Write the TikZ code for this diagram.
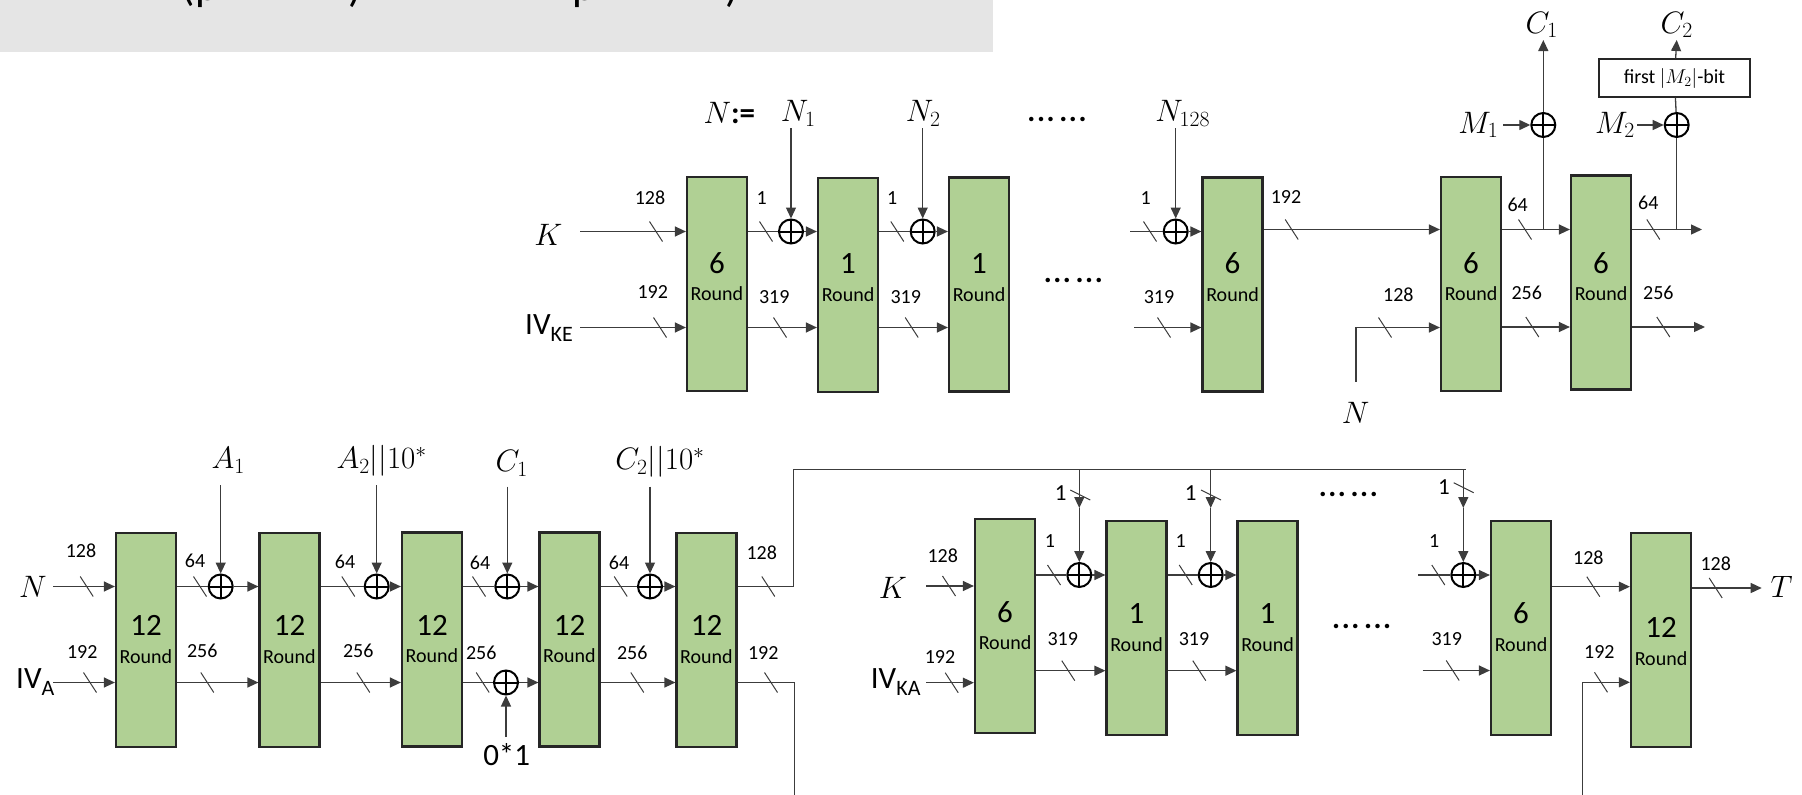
\RequirePackage{fix-cm}
\documentclass[tikz,border=0pt]{standalone}
\usepackage{fontspec}
\setmainfont{Carlito}
\usetikzlibrary{arrows.meta}

\definecolor{roundfill}{RGB}{176,208,148}
\definecolor{bannergray}{RGB}{229,229,229}
\definecolor{wiregray}{RGB}{60,60,60}

\newcounter{busno}

\tikzset{
  wire/.style={line width=1.3pt, draw=wiregray},
  arr/.style={wire, -{Triangle[length=11pt,width=10pt]}},
  rbox/.style={draw=black!85, line width=2.2pt, fill=roundfill,
    minimum width=60pt, minimum height=214pt, inner sep=0pt},
  xorn/.style={circle, draw=black, line width=2pt, minimum size=24pt, inner sep=0pt,
    path picture={\draw[line width=2pt]
      (path picture bounding box.north) -- (path picture bounding box.south)
      (path picture bounding box.west) -- (path picture bounding box.east);}},
  num/.style={font=\fontsize{20}{20}\selectfont, inner sep=0pt},
  onum/.style={font=\fontsize{23}{23}\selectfont, inner sep=0pt},
  bignum/.style={font=\fontsize{31}{31}\selectfont, inner sep=0pt},
  var/.style={font=\fontsize{31}{31}\selectfont, inner sep=0pt},
  dots/.style={font=\fontsize{30}{30}\selectfont\bfseries, inner sep=0pt},
  frag/.style={font=\fontsize{44}{44}\selectfont, inner sep=0pt},
  slashmark/.style={line width=1pt, draw=wiregray},
}

% a round-function block: name, x, y, number of rounds, lift of the number
\newcommand\roundbox[5]{%
  \node[rbox] (#1) at (#2,#3) {};
  \node[bignum] (#1n) at ([yshift=#5pt]#1.center) {#4};
  \node[num] (#1r) at ([yshift=#5pt-31pt]#1.center) {Round};}

% width mark on a horizontal wire at (#1,#2), bit count #5 at (#3,#4)
\newcommand\hbus[5]{%
  \stepcounter{busno}%
  \draw[slashmark] ({#1-6.5},{#2-10}) -- ({#1+6.5},{#2+10});
  \node[num] (bw\arabic{busno}) at (#3,#4) {#5};}

% width mark on a vertical wire
\newcommand\vbus[5]{%
  \stepcounter{busno}%
  \draw[slashmark] ({#1-10},{#2-5}) -- ({#1+10},{#2+5});
  \node[onum] (bw\arabic{busno}) at (#3,#4) {#5};}

\newcommand\IVlabel[1]{IV{\fontsize{22}{22}\selectfont\raisebox{-7pt}{#1}}}
% two groups of three dots
\newcommand\dotrow{.\kern1.6pt.\kern1.6pt.\kern4.6pt.\kern1.6pt.\kern1.6pt.}

\begin{document}
\begin{tikzpicture}[x=1pt,y=-1pt]
\useasboundingbox (0,0) rectangle (1802,795);

% ---------- title banner ----------
\fill[bannergray] (0,0) rectangle (992.7,51.7);
\begin{scope}
  \clip (0,0) rectangle (992.7,51.7);
  \node[frag, anchor=south] (t1) at (200,7.5) {(p};
  \node[frag, anchor=south] (t2) at (355,7.5) {)};
  \node[frag, anchor=south] (t3) at (584,7.5) {p};
  \node[frag, anchor=south] (t4) at (732,7.5) {)};
\end{scope}

% =================== encryption ===================
\roundbox{a1}{717}{284}{6}{21}
\roundbox{a2}{848}{285}{1}{21}
\roundbox{a3}{979}{284.5}{1}{21}
\roundbox{a4}{1232.5}{284.5}{6}{21}
\roundbox{a5}{1471}{284}{6}{21}
\roundbox{a6}{1601}{282.5}{6}{19.5}

\node[xorn] (xa1) at (791,231.5) {};
\node[xorn] (xa2) at (922.7,231.5) {};
\node[xorn] (xa3) at (1175.7,231.5) {};
\node[xorn] (xc1) at (1543.3,125) {};
\node[xorn] (xc2) at (1676.7,125) {};

\node[var] (ka) at (548.3,235) {$K$};
\node[var, anchor=base west] (ivke) at (525,334) {\IVlabel{KE}};
\node[var] (nn) at (729.3,113.3) {$N$\textbf{:=}};
\node[var] (n1) at (798.3,113.3) {$N_1$};
\node[var] (n2) at (923.3,113.3) {$N_2$};
\node[var] (n128) at (1182.7,113.3) {$N_{128}$};
\node[dots] (da1) at (1057,119) {\dotrow};
\node[dots] (da2) at (1073.3,280.5) {\dotrow};
\node[var] (c1o) at (1541.7,25) {$C_1$};
\node[var] (c2o) at (1676.7,25) {$C_2$};
\node[var] (m1) at (1478.3,125) {$M_1$};
\node[var] (m2) at (1615,125) {$M_2$};
\node[var] (nonce) at (1355.7,413.3) {$N$};
\node[draw=black!85, line width=1.5pt, minimum width=151pt, minimum height=38pt,
      inner sep=0pt, font=\fontsize{20}{20}\selectfont] (trunc) at (1674.5,78) {first $|M_2|$-bit};

\coordinate (ks) at (580,231.5);
\coordinate (ivs) at (580,327.5);
\coordinate (n1s) at (791,128);
\coordinate (n2s) at (922.7,128);
\coordinate (n128s) at (1175.7,128);
\coordinate (a4t) at (1130,231.5);
\coordinate (a4b) at (1134,327.5);
\coordinate (nst) at (1356,381.7);
\coordinate (m1s) at (1503,125);
\coordinate (m2s) at (1637,125);
\coordinate (c1e) at (1543.3,40);
\coordinate (c2e) at (1676.7,40);
\coordinate (o1) at (1702,229.5);
\coordinate (o2) at (1705,327);

\draw[arr] (ks) -- (a1.west |- ks);
\draw[arr] (ivs) -- (a1.west |- ivs);
\draw[wire] (a1.east |- xa1) -- (xa1);
\draw[arr] (xa1) -- (a2.west |- xa1);
\draw[arr] (a1.east |- ivs) -- (a2.west |- ivs);
\draw[wire] (a2.east |- xa2) -- (xa2);
\draw[arr] (xa2) -- (a3.west |- xa2);
\draw[arr] (a2.east |- ivs) -- (a3.west |- ivs);
\draw[wire] (a4t) -- (xa3);
\draw[arr] (xa3) -- (a4.west |- xa3);
\draw[arr] (a4b) -- (a4.west |- a4b);
\draw[arr] (n1s) -- (xa1);
\draw[arr] (n2s) -- (xa2);
\draw[arr] (n128s) -- (xa3);
\draw[arr] (a4.east |- o1) -- (a5.west |- o1);
\draw[arr] (nst) |- (a5.west |- ivs);
\draw[arr] (a5.east |- o1) -- (a6.west |- o1);
\draw[arr] (a5.east |- o2) -- (a6.west |- o2);
\draw[wire] (xc1 |- o1) -- (xc1);
\draw[arr] (xc1) -- (c1e);
\draw[arr] (m1s) -- (xc1);
\draw[arr] (a6.east |- o1) -- (o1);
\draw[arr] (a6.east |- o2) -- (o2);
\draw[wire] (xc2 |- o1) -- (xc2);
\draw[wire] (xc2) -- (trunc);
\draw[arr] (trunc) -- (c2e);
\draw[arr] (m2s) -- (xc2);

\hbus{656}{231.5}{650}{197.3}{128}
\hbus{660}{327.5}{652.7}{292.3}{192}
\hbus{766}{231.5}{761.7}{198.3}{1}
\hbus{780}{327.5}{774.3}{296.7}{319}
\hbus{897.3}{231.5}{892.3}{198.3}{1}
\hbus{911.7}{327.5}{905.7}{296.7}{319}
\hbus{1150}{231.5}{1145.7}{198.3}{1}
\hbus{1164}{327.5}{1159}{296.7}{319}
\hbus{1291.7}{229.5}{1286}{197.3}{192}
\hbus{1385}{327.5}{1398.3}{295}{128}
\hbus{1525}{229.5}{1517.7}{205}{64}
\hbus{1532.3}{327}{1526.7}{293.3}{256}
\hbus{1653.3}{229.5}{1648.3}{202.7}{64}
\hbus{1663.3}{327}{1658.3}{293.3}{256}

% =================== associated data and message ===================
\roundbox{b1}{146}{640}{12}{14.5}
\roundbox{b2}{289.5}{640}{12}{14.5}
\roundbox{b3}{432}{639.5}{12}{14.5}
\roundbox{b4}{569.5}{639.5}{12}{14.5}
\roundbox{b5}{706.5}{640}{12}{14.5}

\node[xorn] (xb1) at (220.7,586.5) {};
\node[xorn] (xb2) at (376.7,586.5) {};
\node[xorn] (xb3) at (507.3,586.5) {};
\node[xorn] (xb0) at (506,682.5) {};
\node[xorn] (xb4) at (650,586.5) {};

\node[var] (nb) at (33,586.7) {$N$};
\node[var, anchor=base west] (iva) at (16,688.3) {\IVlabel{A}};
\node[var] (la1) at (228.3,460.7) {$A_1$};
\node[var] (la2) at (381.7,460.7) {$A_2||10^*$};
\node[var] (lc1) at (511.7,463.3) {$C_1$};
\node[var] (lc2) at (660,461.7) {$C_2||10^*$};
\node[var] (pad) at (506.7,755) {0*1};

\coordinate (nbs) at (53,586.5);
\coordinate (ivas) at (53,682.5);
\coordinate (la1s) at (220.7,485);
\coordinate (la2s) at (376.7,485);
\coordinate (lc1s) at (507.3,486.7);
\coordinate (lc2s) at (650,486.7);
\coordinate (pads) at (506,737);
\coordinate (bt) at (793.3,586.5);
\coordinate (bb) at (794.3,682.5);
\coordinate (bbend) at (794.3,795);
\coordinate (busl) at (793.3,469.3);
\coordinate (busr) at (1465.7,469.3);

\draw[arr] (nbs) -- (b1.west |- nbs);
\draw[arr] (ivas) -- (b1.west |- ivas);
\draw[wire] (b1.east |- xb1) -- (xb1);
\draw[arr] (xb1) -- (b2.west |- xb1);
\draw[arr] (b1.east |- ivas) -- (b2.west |- ivas);
\draw[wire] (b2.east |- xb2) -- (xb2);
\draw[arr] (xb2) -- (b3.west |- xb2);
\draw[arr] (b2.east |- ivas) -- (b3.west |- ivas);
\draw[wire] (b3.east |- xb3) -- (xb3);
\draw[arr] (xb3) -- (b4.west |- xb3);
\draw[wire] (b3.east |- xb0) -- (xb0);
\draw[arr] (xb0) -- (b4.west |- xb0);
\draw[arr] (pads) -- (xb0);
\draw[wire] (b4.east |- xb4) -- (xb4);
\draw[arr] (xb4) -- (b5.west |- xb4);
\draw[arr] (b4.east |- ivas) -- (b5.west |- ivas);
\draw[arr] (la1s) -- (xb1);
\draw[arr] (la2s) -- (xb2);
\draw[arr] (lc1s) -- (xb3);
\draw[arr] (lc2s) -- (xb4);
\draw[wire] (b5.east |- bt) -- (bt) -- (busl) -- (busr);
\draw[wire] (b5.east |- bb) -- (bb) -- (bbend);

\hbus{86.7}{586.5}{81}{551}{128}
\hbus{90}{682.5}{82.3}{652.3}{192}
\hbus{200}{586.5}{195}{560.7}{64}
\hbus{207.3}{682.5}{202.3}{650.7}{256}
\hbus{348.3}{586.5}{345}{561.7}{64}
\hbus{363.3}{682.5}{358.3}{650.7}{256}
\hbus{479}{586.5}{480}{562.7}{64}
\hbus{482.7}{682.5}{481.3}{652.7}{256}
\hbus{620.7}{586.5}{619}{562.7}{64}
\hbus{637.3}{682.5}{632.3}{652.7}{256}
\hbus{768.3}{586.5}{761.7}{552.7}{128}
\hbus{771}{682.5}{763.3}{653.3}{192}

% =================== tag generation ===================
\roundbox{d1}{1005}{626.3}{6}{14.5}
\roundbox{d2}{1136.5}{628}{1}{14.5}
\roundbox{d3}{1267.5}{628}{1}{14.5}
\roundbox{d4}{1521}{628}{6}{14.5}
\roundbox{d5}{1661}{640}{12}{12.5}

\node[xorn] (xd1) at (1079.3,575) {};
\node[xorn] (xd2) at (1210.7,575) {};
\node[xorn] (xd3) at (1463.3,575) {};

\node[var] (kb) at (893,588) {$K$};
\node[var, anchor=base west] (ivka) at (870.7,688.3) {\IVlabel{KA}};
\node[var] (tag) at (1781.7,586.7) {$T$};
\node[dots] (db1) at (1348.3,494.5) {\dotrow};
\node[dots] (db2) at (1361.7,626.5) {\dotrow};

\coordinate (kbs) at (926,586);
\coordinate (ivkas) at (926,682.7);
\coordinate (d1bot) at (0,670.7);
\coordinate (dm1) at (1079.3,508);
\coordinate (dm2) at (1210.7,508);
\coordinate (dm3) at (1463.3,508);
\coordinate (d4t) at (1418.3,575);
\coordinate (d4b) at (1422.7,670.5);
\coordinate (d45) at (0,586.7);
\coordinate (tout) at (1761.7,588);
\coordinate (d5in) at (1582.7,682.3);
\coordinate (d5st) at (1582.7,795);

\draw[arr] (kbs) -- (d1.west |- kbs);
\draw[arr] (ivkas) -- (d1.west |- ivkas);
\draw[wire] (d1.east |- xd1) -- (xd1);
\draw[arr] (xd1) -- (d2.west |- xd1);
\draw[arr] (d1.east |- d1bot) -- (d2.west |- d1bot);
\draw[wire] (d2.east |- xd2) -- (xd2);
\draw[arr] (xd2) -- (d3.west |- xd2);
\draw[arr] (d2.east |- d1bot) -- (d3.west |- d1bot);
\draw[wire] (d4t) -- (xd3);
\draw[arr] (xd3) -- (d4.west |- xd3);
\draw[arr] (d4b) -- (d4.west |- d4b);
\draw[arr] (d4.east |- d45) -- (d5.west |- d45);
\draw[arr] (d5.east |- tout) -- (tout);
\draw[arr] (d5st) -- (d5in) -- (d5.west |- d5in);
\draw[arr] (dm1 |- busl) -- (dm1);
\draw[arr] (dm1) -- (xd1);
\draw[arr] (dm2 |- busl) -- (dm2);
\draw[arr] (dm2) -- (xd2);
\draw[arr] (dm3 |- busl) -- (dm3);
\draw[arr] (dm3) -- (xd3);

\hbus{949}{586}{942.7}{556}{128}
\hbus{951.7}{682.7}{940}{657}{192}
\hbus{1054}{575}{1050}{540.7}{1}
\hbus{1068.3}{670.7}{1062.7}{639}{319}
\hbus{1185.7}{575}{1180.7}{540.7}{1}
\hbus{1199.3}{670.7}{1194}{639}{319}
\hbus{1438.3}{575}{1434.3}{540.7}{1}
\hbus{1452.7}{670.5}{1446.7}{639.3}{319}
\hbus{1593.3}{586.7}{1588.3}{557.3}{128}
\hbus{1715.7}{588}{1715.7}{563.3}{128}
\hbus{1601}{682.3}{1599.3}{651.7}{192}
\vbus{1080.3}{495}{1060.7}{492.7}{1}
\vbus{1211}{495}{1190.7}{492.7}{1}
\vbus{1463.7}{487.7}{1444}{487.3}{1}
\end{tikzpicture}
\end{document}
